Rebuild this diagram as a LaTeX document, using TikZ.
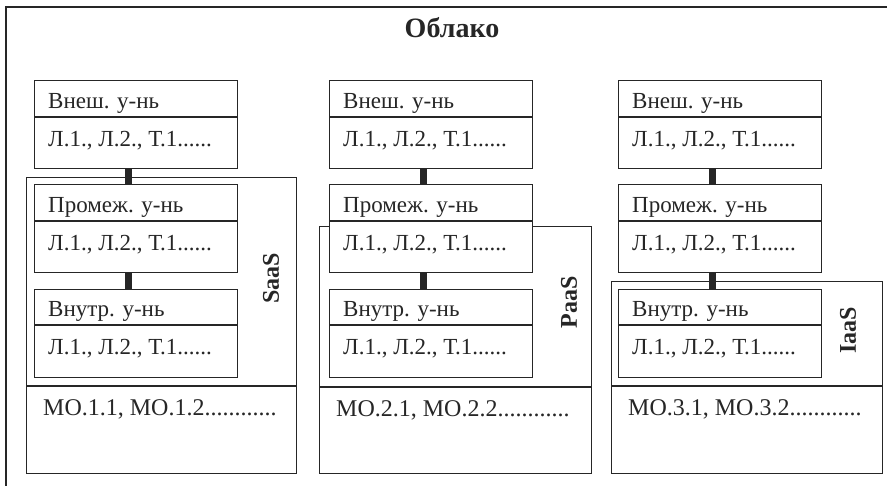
\documentclass[tikz,border=0pt]{standalone}
\usepackage{fontspec}
\setmainfont{Liberation Serif}
\definecolor{ink}{HTML}{262626}
\tikzset{
  frame/.style={draw=ink, line width=1.3pt, anchor=north west, inner sep=0pt},
  cell/.style={draw=ink, fill=white, line width=1.3pt, minimum width=203pt,
               anchor=north west, inner sep=0pt},
  rule/.style={draw=ink, line width=1.3pt},
  link/.style={draw=ink, line width=7pt},
  txt/.style={anchor=base west, inner sep=0pt, text=ink,
              font=\fontsize{23}{27}\selectfont},
  motxt/.style={txt, font=\fontsize{24}{28}\selectfont},
  svc/.style={rotate=90, inner sep=0pt, text=ink,
              font=\bfseries\fontsize{24}{28}\selectfont},
}
% level box: name, left, top, header height, total height, header text
\newcommand\levelbox[6]{%
  \node[cell, minimum height=#5pt] (#1) at (#2,#3) {};
  \coordinate (#1d) at ([yshift=-#4pt]#1.north west);
  \draw[rule] (#1d) -- (#1d -| #1.east);
  \node[txt, xshift=14pt, yshift=8pt] (#1ht) at (#1d) {#6};
  \node[txt, xshift=14pt, yshift=-30pt] (#1bt) at (#1d) {Л.1., Л.2., Т.1......};
}
% service frame: name, left, top, width, total height, upper height, text
\newcommand\svcframe[7]{%
  \node[frame, minimum width=#4pt, minimum height=#5pt] (#1) at (#2,#3) {};
  \coordinate (#1d) at ([yshift=-#6pt]#1.north west);
  \draw[rule] (#1d) -- (#1d -| #1.east);
  \node[motxt, xshift=17pt, yshift=-30pt] (#1mot) at (#1d) {#7};
}
\begin{document}
\begin{tikzpicture}[x=1pt, y=-1pt]
\useasboundingbox (0,0) rectangle (887,486);
\clip (0,0) rectangle (887,486);

% cloud frame and title
\draw[ink, line width=1.3pt] (6,7) rectangle (895,495);
\node[anchor=base, inner sep=0pt, text=ink, font=\bfseries\fontsize{28}{32}\selectfont]
  (title) at (452,38) {Облако};

% service frames
\svcframe{saas}{26}{177}{270}{296}{209}{МО.1.1, МО.1.2............}
\svcframe{paas}{319}{226}{272}{247}{161}{МО.2.1, МО.2.2............}
\svcframe{iaas}{611}{281}{271}{192}{105}{МО.3.1, МО.3.2............}
\node[svc] (saasl) at (271,278) {SaaS};
\node[svc] (paasl) at (569,302) {PaaS};
\node[svc] (iaasl) at (848,330) {IaaS};

% level boxes
\foreach \c/\x in {1/34, 2/329, 3/618} {
  \levelbox{c\c e}{\x}{80}{37}{88}{Внеш. у-нь}
  \levelbox{c\c m}{\x}{184}{37}{88}{Промеж. у-нь}
  \levelbox{c\c i}{\x}{289}{36}{88}{Внутр. у-нь}
  \draw[ink, line width=2.4pt] (c\c id) -- (c\c id -| c\c i.east);
  \draw[link] ([xshift=-8pt]c\c e.south) -- ([xshift=-8pt]c\c m.north);
  \draw[link] ([xshift=-8pt]c\c m.south) -- ([xshift=-8pt]c\c i.north);
}
\end{tikzpicture}
\end{document}
